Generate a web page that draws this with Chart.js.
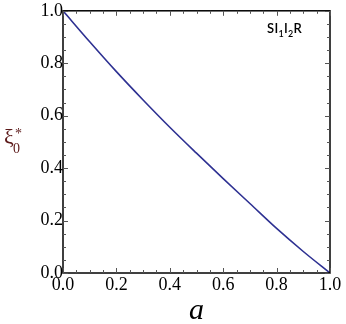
<!DOCTYPE html>
<html>
<head>
<meta charset="utf-8">
<script src="https://cdn.jsdelivr.net/npm/chart.js@4/dist/chart.umd.min.js"></script>
<style>
  html, body { margin: 0; padding: 0; background: #fff; }
  #wrap { width: 346px; height: 324px; }
</style>
</head>
<body>
<div id="wrap"><canvas id="c" width="346" height="324"></canvas></div>
<script>
// Werte
const aValues  = [0.0, 0.1, 0.2, 0.3, 0.4, 0.5, 0.6, 0.7, 0.8, 0.9, 1.0];
const xiValues = [1.0, 0.882, 0.768, 0.66, 0.556, 0.457, 0.36, 0.265, 0.17, 0.082, 0.0];
const tickValues = [0.0, 0.2, 0.4, 0.6, 0.8, 1.0];
const seriesLabel = 'SI1I2R';

const points = aValues.map((a, i) => ({ x: a, y: xiValues[i] }));

// Rahmen, nach innen gerichtete Ticks und Achsentitel
const framePlugin = {
  id: 'frame',
  afterDraw(chart) {
    const { ctx, chartArea: ca, scales } = chart;
    const xs = scales.x, ys = scales.y;
    ctx.save();
    ctx.strokeStyle = '#000';
    ctx.lineWidth = 1.5;
    ctx.strokeRect(ca.left, ca.top, ca.right - ca.left, ca.bottom - ca.top);

    ctx.lineWidth = 1;
    ctx.strokeStyle = '#555';
    for (let i = 0; i <= 20; i++) {
      const v = i / 20;
      const len = (i % 4 === 0) ? 5 : 3;
      const px = Math.round(xs.getPixelForValue(v)) + 0.5;
      const py = Math.round(ys.getPixelForValue(v)) + 0.5;
      ctx.beginPath();
      ctx.moveTo(px, ca.bottom); ctx.lineTo(px, ca.bottom - len);
      ctx.moveTo(px, ca.top);    ctx.lineTo(px, ca.top + len);
      ctx.moveTo(ca.left, py);   ctx.lineTo(ca.left + len, py);
      ctx.moveTo(ca.right, py);  ctx.lineTo(ca.right - len, py);
      ctx.stroke();
    }

    // x-Achsentitel
    ctx.fillStyle = '#000';
    ctx.font = 'italic 30px "Liberation Serif", serif';
    ctx.textAlign = 'center';
    ctx.textBaseline = 'alphabetic';
    ctx.fillText('a', (ca.left + ca.right) / 2, 319);

    // y-Achsentitel ξ0*
    ctx.fillStyle = '#5c1a1a';
    ctx.textAlign = 'left';
    ctx.font = '22px "Liberation Serif", serif';
    ctx.fillText('ξ', 4, 144);
    ctx.font = '14px "Liberation Serif", serif';
    ctx.fillText('0', 13, 153);
    ctx.fillText('*', 15, 138);

    // Beschriftung SI1I2R
    ctx.fillStyle = '#000';
    const big = '600 13px Lato, sans-serif';
    const small = '600 9px Lato, sans-serif';
    let x = 267;
    const parts = [['S', big, 0], ['I', big, 0], ['1', small, 4], ['I', big, 0], ['2', small, 4], ['R', big, 0]];
    for (const [t, f, dy] of parts) {
      ctx.font = f;
      ctx.fillText(t, x, 33 + dy);
      x += ctx.measureText(t).width + 0.3;
    }
    ctx.restore();
  }
};

const tickFont = { family: '"Liberation Serif", serif', size: 18 };

new Chart(document.getElementById('c').getContext('2d'), {
  type: 'line',
  data: {
    datasets: [{
      label: seriesLabel,
      data: points,
      borderColor: '#2e3192',
      borderWidth: 1.6,
      pointRadius: 0,
      fill: false,
      cubicInterpolationMode: 'monotone'
    }]
  },
  options: {
    responsive: false,
    animation: false,
    layout: { padding: { top: 8, right: 16, left: 0, bottom: 0 } },
    plugins: { legend: { display: false }, tooltip: { enabled: false } },
    scales: {
      x: {
        type: 'linear', min: 0, max: 1,
        grid: { display: false, drawTicks: false, tickLength: 0 },
        border: { display: false },
        afterBuildTicks: s => { s.ticks = tickValues.map(v => ({ value: v })); },
        afterFit: s => { s.height = 51; },
        ticks: { color: '#000', font: tickFont, padding: 1, maxRotation: 0, autoSkip: false,
                 callback: v => Number(v).toFixed(1) }
      },
      y: {
        type: 'linear', min: 0, max: 1,
        grid: { display: false, drawTicks: false, tickLength: 0 },
        border: { display: false },
        afterBuildTicks: s => { s.ticks = tickValues.map(v => ({ value: v })); },
        afterFit: s => { s.width = 63; },
        ticks: { color: '#000', font: tickFont, padding: 0, autoSkip: false,
                 callback: v => Number(v).toFixed(1) }
      }
    }
  },
  plugins: [framePlugin]
});
</script>
</body>
</html>
